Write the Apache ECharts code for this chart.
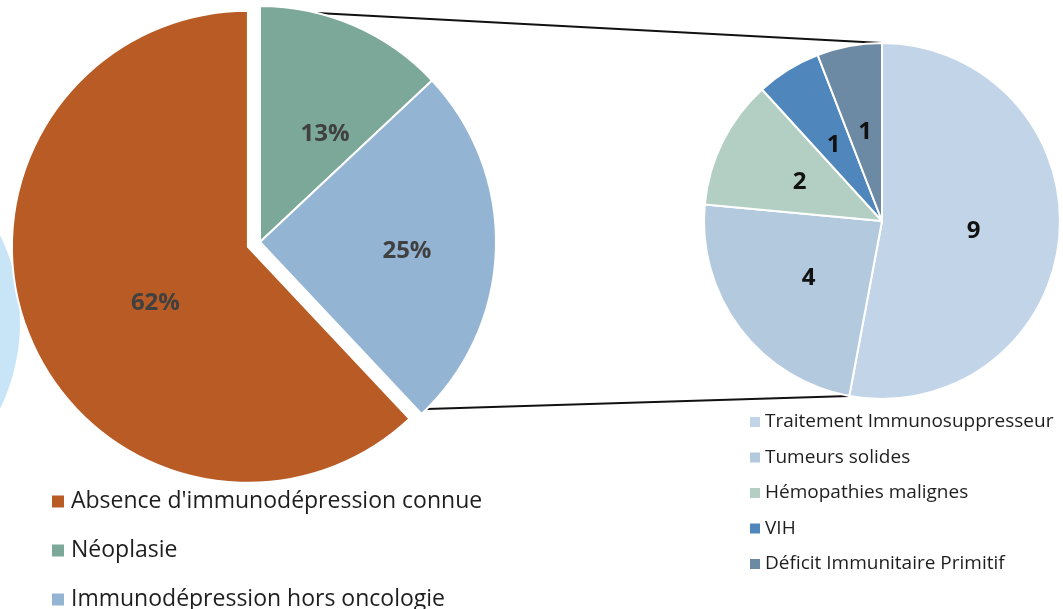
<!DOCTYPE html>
<html>
<head>
<meta charset="utf-8">
<script src="https://cdn.jsdelivr.net/npm/echarts@6/dist/echarts.min.js"></script>
<style>
  html, body { margin: 0; padding: 0; background: #fff; }
  #chart { width: 1063px; height: 609px; }
</style>
</head>
<body>
<div id="chart"></div>
<script>
// pie principal (%)
var mainNames = ['Absence d\'immunodépression connue', 'Néoplasie', 'Immunodépression hors oncologie'];
var mainValues = [62, 13, 25];
var mainColors = ['#b85b24', '#7ba899', '#94b4d4'];
// décalage des étiquettes (style, façon Excel)
var mainLabelShift = [[20, 12], [17, 3], [26, 5]];

// sous-pie (effectifs)
var subNames = ['Traitement Immunosuppresseur', 'Tumeurs solides', 'Hémopathies malignes', 'VIH', 'Déficit Immunitaire Primitif'];
var subValues = [9, 4, 2, 1, 1];
var subColors = ['#c2d5e8', '#b3c9de', '#b3cfc4', '#4f87bc', '#6c8aa3'];

var big = { cx: 260, cy: 242, r: 236 };
var small = { cx: 882, cy: 221, r: 178 };

var mainTotal = mainValues.reduce(function (a, b) { return a + b; }, 0);
var subTotal = subValues.reduce(function (a, b) { return a + b; }, 0);
// la part "absence" se termine en haut (90°)
var mainStart = 90 + 360 * mainValues[0] / mainTotal;

function pt(c, r, deg) {
  var a = deg * Math.PI / 180;
  return [c.cx + r * Math.cos(a), c.cy - r * Math.sin(a)];
}

var topA = pt(big, big.r, 76);
var topB = pt(small, small.r, 90);
var botA = pt(big, big.r, -45);
var botB = pt(small, small.r, 90 - 360 * subValues[0] / subTotal);

var chart = echarts.init(document.getElementById('chart'));
chart.setOption({
  animation: false,
  textStyle: { fontFamily: 'Open Sans' },
  graphic: [
    { type: 'circle', shape: { cx: -179, cy: 322, r: 199 }, style: { fill: '#c7e5f6' }, z: -1 },
    { type: 'line', shape: { x1: topA[0], y1: topA[1], x2: topB[0], y2: topB[1] }, style: { stroke: '#111', lineWidth: 2 }, z: 0 },
    { type: 'line', shape: { x1: botA[0], y1: botA[1], x2: botB[0], y2: botB[1] }, style: { stroke: '#111', lineWidth: 2 }, z: 0 }
  ],
  legend: [
    {
      data: mainNames,
      orient: 'vertical',
      left: 50,
      top: 490,
      height: 160,
      padding: 0,
      itemWidth: 14,
      itemHeight: 14,
      itemGap: 26,
      icon: 'rect',
      selectedMode: false,
      textStyle: { fontSize: 23, color: '#1e1e1e', lineHeight: 22, padding: [0, 0, 0, 1] }
    },
    {
      data: subNames,
      orient: 'vertical',
      left: 748,
      top: 412,
      height: 200,
      padding: 0,
      itemWidth: 12,
      itemHeight: 12,
      itemGap: 15.5,
      icon: 'rect',
      selectedMode: false,
      textStyle: { fontSize: 19, color: '#1e1e1e', lineHeight: 20, padding: [0, 0, 0, -1] }
    }
  ],
  series: [
    {
      type: 'pie',
      center: [big.cx, big.cy],
      radius: big.r,
      startAngle: mainStart,
      clockwise: true,
      selectedMode: 'single',
      selectedOffset: 13,
      emphasis: { disabled: true },
      itemStyle: { borderColor: '#fff', borderWidth: 2 },
      label: {
        position: 'inside',
        formatter: '{d}%',
        fontSize: 24,
        fontWeight: 'bold',
        color: '#404040'
      },
      labelLine: { show: false },
      data: mainNames.map(function (n, i) {
        return {
          name: n,
          value: mainValues[i],
          selected: i === 0,
          itemStyle: { color: mainColors[i] },
          label: { offset: mainLabelShift[i] },
          select: { label: { offset: mainLabelShift[i] } }
        };
      })
    },
    {
      type: 'pie',
      center: [small.cx, small.cy],
      radius: small.r,
      startAngle: 90,
      clockwise: true,
      emphasis: { disabled: true },
      itemStyle: { borderColor: '#fff', borderWidth: 2 },
      label: {
        position: 'inside',
        formatter: '{c}',
        fontSize: 24,
        fontWeight: 'bold',
        color: '#111',
        offset: [0, 2]
      },
      labelLine: { show: false },
      data: subNames.map(function (n, i) {
        return { name: n, value: subValues[i], itemStyle: { color: subColors[i] } };
      })
    }
  ]
});
</script>
</body>
</html>
